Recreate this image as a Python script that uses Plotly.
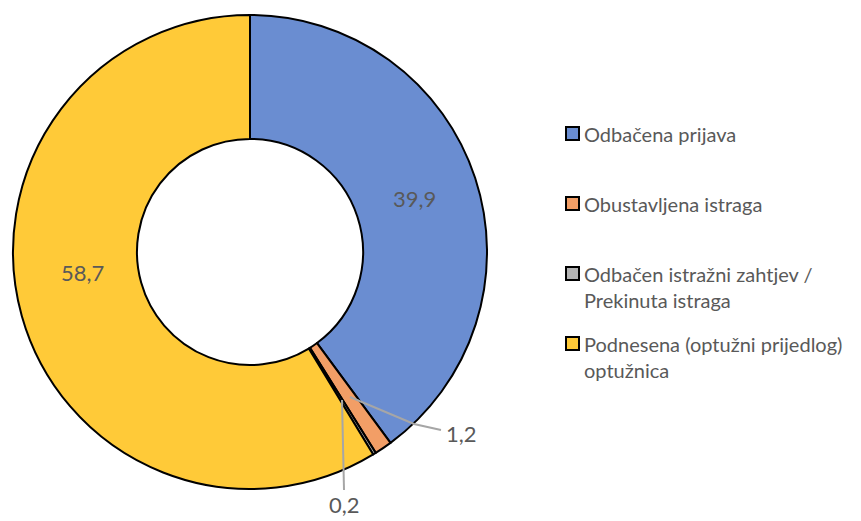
import plotly.graph_objects as go

categories = ["Odbačena prijava", "Obustavljena istraga",
              "Odbačen istražni zahtjev / Prekinuta istraga",
              "Podnesena (optužni prijedlog) optužnica"]
legend_lines = [["Odbačena prijava"], ["Obustavljena istraga"],
                ["Odbačen istražni zahtjev /", "Prekinuta istraga"],
                ["Podnesena (optužni prijedlog)", "optužnica"]]
values = [39.9, 1.2, 0.2, 58.7]
colors = ["#6A8DD1", "#F29E66", "#B4B4B4", "#FFCA38"]

W, H = 861, 521
TXT = "#595959"
FONT = "Lato"

def px(x):
    return x / W

def py(y):
    return 1 - y / H

def fmt(v):
    return f"{v:.1f}".replace(".", ",")

fig = go.Figure(go.Pie(
    labels=categories, values=values, sort=False, direction="clockwise",
    rotation=0, hole=0.477,
    marker=dict(colors=colors, line=dict(color="black", width=2)),
    textinfo="none", showlegend=False, hoverinfo="label+value",
    domain=dict(x=[px(13), px(487)], y=[py(489), py(15)]),
))

annotations = []
shapes = []

# value labels (visual centres); the last-but-one sits at the bottom edge
label_pos = [(414, 198), (461, 433), (344, None), (82, 272)]
for v, (x, y) in zip(values, label_pos):
    if y is None:
        annotations.append(dict(x=px(x), y=py(520), xref="paper", yref="paper",
                                xanchor="center", yanchor="bottom",
                                text=fmt(v), showarrow=False,
                                font=dict(family=FONT, size=22, color=TXT)))
    else:
        annotations.append(dict(x=px(x), y=py(y), xref="paper", yref="paper",
                                xanchor="center", yanchor="middle",
                                text=fmt(v), showarrow=False,
                                font=dict(family=FONT, size=22, color=TXT)))

# leader lines for the small slices
shapes.append(dict(type="path", xref="paper", yref="paper",
                   path=f"M {px(350)} {py(397)} L {px(414)} {py(424)} L {px(441)} {py(430)}",
                   line=dict(color="#A6A6A6", width=2)))
shapes.append(dict(type="path", xref="paper", yref="paper",
                   path=f"M {px(342)} {py(400)} L {px(344)} {py(490)}",
                   line=dict(color="#A6A6A6", width=2)))

# legend
baselines = [141, 211, 281, 351]
LINE = 26
for lines, c, b in zip(legend_lines, colors, baselines):
    shapes.append(dict(type="rect", xref="paper", yref="paper",
                       x0=px(566), x1=px(579), y0=py(b - 1), y1=py(b - 14),
                       fillcolor=c, line=dict(color="black", width=2)))
    for i, t in enumerate(lines):
        annotations.append(dict(x=px(582), y=py(b + i * LINE - 7), xref="paper", yref="paper",
                                xanchor="left", yanchor="middle", align="left",
                                text=t, showarrow=False,
                                font=dict(family=FONT, size=20, color=TXT)))

fig.update_layout(
    width=W, height=H, margin=dict(l=0, r=0, t=0, b=0),
    paper_bgcolor="white", plot_bgcolor="white",
    annotations=annotations, shapes=shapes,
)

fig.write_html("out.html", config={"displayModeBar": False},
               post_script="document.body.style.margin='0';")
